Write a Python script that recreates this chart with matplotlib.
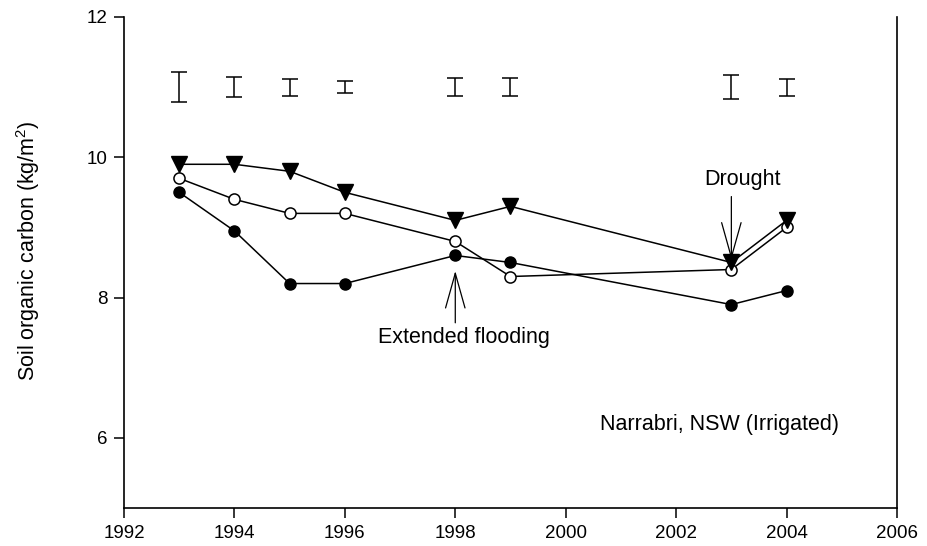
import matplotlib
matplotlib.use('Agg')
import matplotlib.pyplot as plt
import numpy as np

plt.rcParams['font.family'] = ['Liberation Sans', 'DejaVu Sans']
plt.rcParams['mathtext.default'] = 'regular'

# data
years = [1993, 1994, 1995, 1996, 1998, 1999, 2003, 2004]
soc_triangle = [9.9, 9.9, 9.8, 9.5, 9.1, 9.3, 8.5, 9.1]
soc_open = [9.7, 9.4, 9.2, 9.2, 8.8, 8.3, 8.4, 9.0]
soc_filled = [9.5, 8.95, 8.2, 8.2, 8.6, 8.5, 7.9, 8.1]
# LSD bars drawn at the top of the plot
lsd_centre = [11.0, 11.0, 11.0, 11.0, 11.0, 11.0, 11.0, 11.0]
lsd_half = [0.21, 0.14, 0.12, 0.085, 0.125, 0.13, 0.17, 0.12]

xticks = [1992, 1994, 1996, 1998, 2000, 2002, 2004, 2006]
yticks = [6, 8, 10, 12]

fig = plt.figure(figsize=(9.28, 5.46), dpi=100)
ax = fig.add_axes([0.1336, 0.0696, 0.8330, 0.8993])

ax.plot(years, soc_filled, color='k', lw=1.1, marker='o', ms=8,
        mfc='k', mec='k', zorder=3)
ax.plot(years, soc_open, color='k', lw=1.1, marker='o', ms=8,
        mfc='white', mec='k', mew=1.1, zorder=4)
ax.plot(years, soc_triangle, color='k', lw=1.1, marker='v', ms=11,
        mfc='k', mec='k', zorder=5)

ax.errorbar(years, lsd_centre, yerr=lsd_half, fmt='none', ecolor='k',
            elinewidth=1.1, capsize=6, capthick=1.1)

# annotations
arrow = dict(arrowstyle='->,head_length=2.5,head_width=0.7', color='k', lw=0.9,
             shrinkA=0, shrinkB=0)
ax.annotate('', xy=(2003, 8.54), xytext=(2003, 9.44), arrowprops=arrow)
ax.text(2003.2, 9.68, 'Drought', ha='center', va='center', fontsize=15.5)
ax.annotate('', xy=(1998, 8.38), xytext=(1998, 7.64), arrowprops=arrow)
ax.text(1998.15, 7.43, 'Extended flooding', ha='center', va='center', fontsize=15.5)
ax.text(2000.62, 6.19, 'Narrabri, NSW (Irrigated)', ha='left', va='center',
        fontsize=15.5)

ax.set_xlim(1992, 2006)
ax.set_ylim(5, 12)
ax.set_xticks(xticks)
ax.set_yticks(yticks)
ax.tick_params(direction='out', length=7, width=1.1, labelsize=13.5, pad=5)
ax.spines['top'].set_visible(False)
for s in ['left', 'bottom', 'right']:
    ax.spines[s].set_linewidth(1.2)
ax.set_ylabel('Soil organic carbon (kg/m$^2$)', fontsize=15.5)
ax.yaxis.set_label_coords(-0.106, 0.525)

fig.savefig('out.png', dpi=100)
